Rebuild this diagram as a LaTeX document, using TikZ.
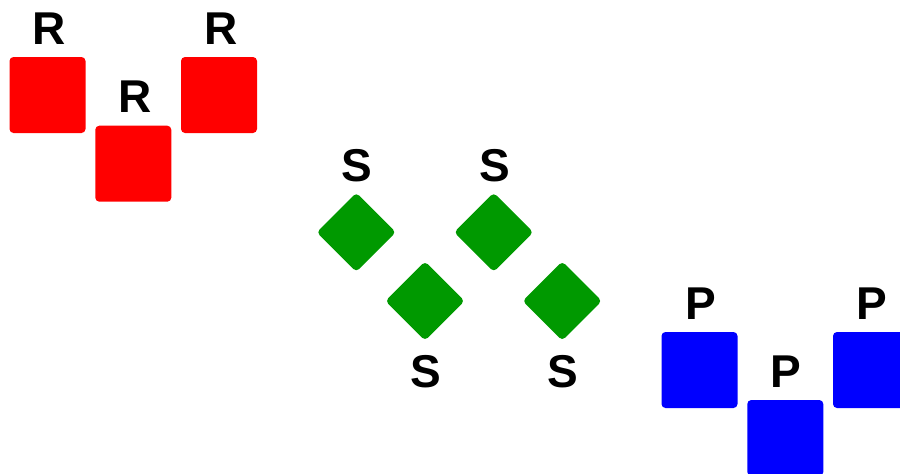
\documentclass[tikz,border=0pt]{standalone}
\usepackage{fontspec}
\setmainfont{Liberation Sans}
\definecolor{rred}{RGB}{255,0,0}
\definecolor{sgreen}{RGB}{0,153,0}
\definecolor{pblue}{RGB}{0,0,255}
\begin{document}
\begin{tikzpicture}[x=1pt,y=-1pt,
  sq/.style={rectangle,inner sep=0pt,outer sep=0pt,minimum size=76pt,rounded corners=4pt,draw=none},
  rsq/.style={sq,fill=rred},
  psq/.style={sq,fill=pblue},
  dia/.style={rectangle,inner sep=0pt,outer sep=0pt,minimum size=56pt,rounded corners=4pt,draw=none,fill=sgreen,rotate=45},
  lab/.style={anchor=base,inner sep=0pt,outer sep=0pt,font=\fontsize{46}{46}\selectfont\bfseries}]
\useasboundingbox (0,0) rectangle (900,474);
% R group
\node[rsq] (r1) at (47.5,95) {};
\node[rsq] (r2) at (133.3,163.7) {};
\node[rsq] (r3) at (219,95) {};
\node[lab] (lr1) at (49,44) {R};
\node[lab] (lr2) at (135,112) {R};
\node[lab] (lr3) at (221,44) {R};
% S group
\node[dia] (s1) at (356.3,232.3) {};
\node[dia] (s2) at (425,301) {};
\node[dia] (s3) at (493.7,232.3) {};
\node[dia] (s4) at (562.2,301) {};
\node[lab] (ls1) at (357,181.5) {S};
\node[lab] (ls2) at (425.8,387.5) {S};
\node[lab] (ls3) at (494.5,181.5) {S};
\node[lab] (ls4) at (563.3,387.5) {S};
% P group
\node[psq] (p1) at (699.5,370) {};
\node[psq] (p2) at (785.3,438) {};
\node[psq] (p3) at (871,370) {};
\node[lab] (lp1) at (700.5,319) {P};
\node[lab] (lp2) at (786,387) {P};
\node[lab] (lp3) at (871.8,319) {P};
\end{tikzpicture}
\end{document}
